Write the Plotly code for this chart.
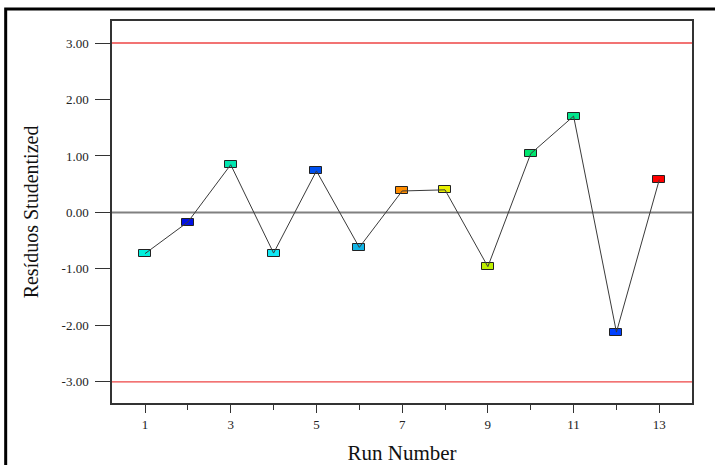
import plotly.graph_objects as go

runs = list(range(1, 14))
residuals = [-0.73, -0.17, 0.845, -0.72, 0.735, -0.62, 0.38, 0.40, -0.96, 1.04, 1.705, -2.12, 0.58]
point_colors = ["#00F0DC", "#0010E6", "#00E6B0", "#10E8F4", "#0050F0", "#10B4E6",
                "#FF8C00", "#E8F000", "#BEF000", "#00E66E", "#00E68C", "#0040FF", "#FF0000"]
x_ticks = [1, 3, 5, 7, 9, 11, 13]
x_minor = [2, 4, 6, 8, 10, 12]
y_ticks = [-3, -2, -1, 0, 1, 2, 3]
y_ticktext = ["-3.00", "-2.00", "-1.00", "0.00", "1.00", "2.00", "3.00"]
limit = 3.0

box_w = 0.28
box_h = 0.124

fig = go.Figure()
# rectangular markers (drawn below the line, as in the reference)
fig.add_trace(go.Bar(
    x=runs, y=[box_h] * len(runs), base=[v - box_h / 2 for v in residuals],
    width=box_w, marker=dict(color=point_colors, line=dict(color="#222222", width=1)),
    showlegend=False, hoverinfo="skip"))
fig.add_trace(go.Scatter(
    x=runs, y=residuals, mode="lines",
    line=dict(color="#3a3a3a", width=1), showlegend=False))

# reference lines
for yv, col, w in [(limit, "#EE4444", 1.3), (-limit, "#EE4444", 1.3), (0, "#808080", 2)]:
    fig.add_shape(type="line", xref="paper", yref="y", x0=0, x1=1, y0=yv, y1=yv,
                  line=dict(color=col, width=w), layer="below")

# outer frame of the picture
fig.add_shape(type="rect", xref="paper", yref="paper", x0=-0.1833, x1=1.6, y0=-0.6, y1=1.0314,
              line=dict(color="black", width=3), fillcolor="rgba(0,0,0,0)", layer="above")

font_family = "Liberation Serif"
fig.update_layout(
    width=715, height=465,
    margin=dict(l=112, r=23, t=21, b=62),
    paper_bgcolor="white", plot_bgcolor="white",
    font=dict(family=font_family, color="#222222"),
    bargap=0,
)
fig.update_xaxes(
    range=[0.23, 13.763], tickmode="array", tickvals=x_ticks, automargin=False,
    ticks="outside", ticklen=8, tickwidth=1.3, tickcolor="#333333",
    minor=dict(tickmode="array", tickvals=x_minor, ticks="outside", ticklen=5, tickwidth=1.3, tickcolor="#333333"),
    showgrid=False, zeroline=False, showline=True, mirror=True, linecolor="#333333", linewidth=1.5,
    tickfont=dict(size=13, family=font_family, color="#222222"), ticklabelstandoff=1,
    title=dict(text="Run Number", font=dict(size=21, family=font_family, color="#111111"), standoff=19),
)
fig.update_yaxes(
    range=[-3.375, 3.39], tickmode="array", tickvals=y_ticks, ticktext=y_ticktext, automargin=False,
    ticks="outside", ticklen=15, tickwidth=1.3, tickcolor="#333333",
    showgrid=False, zeroline=False, showline=True, mirror=True, linecolor="#333333", linewidth=1.5,
    tickfont=dict(size=13, family=font_family, color="#222222"), ticklabelstandoff=4,
    title=dict(text="Resíduos Studentized", font=dict(size=20, family=font_family, color="#111111"), standoff=18),
)

fig.write_html("out.html")
